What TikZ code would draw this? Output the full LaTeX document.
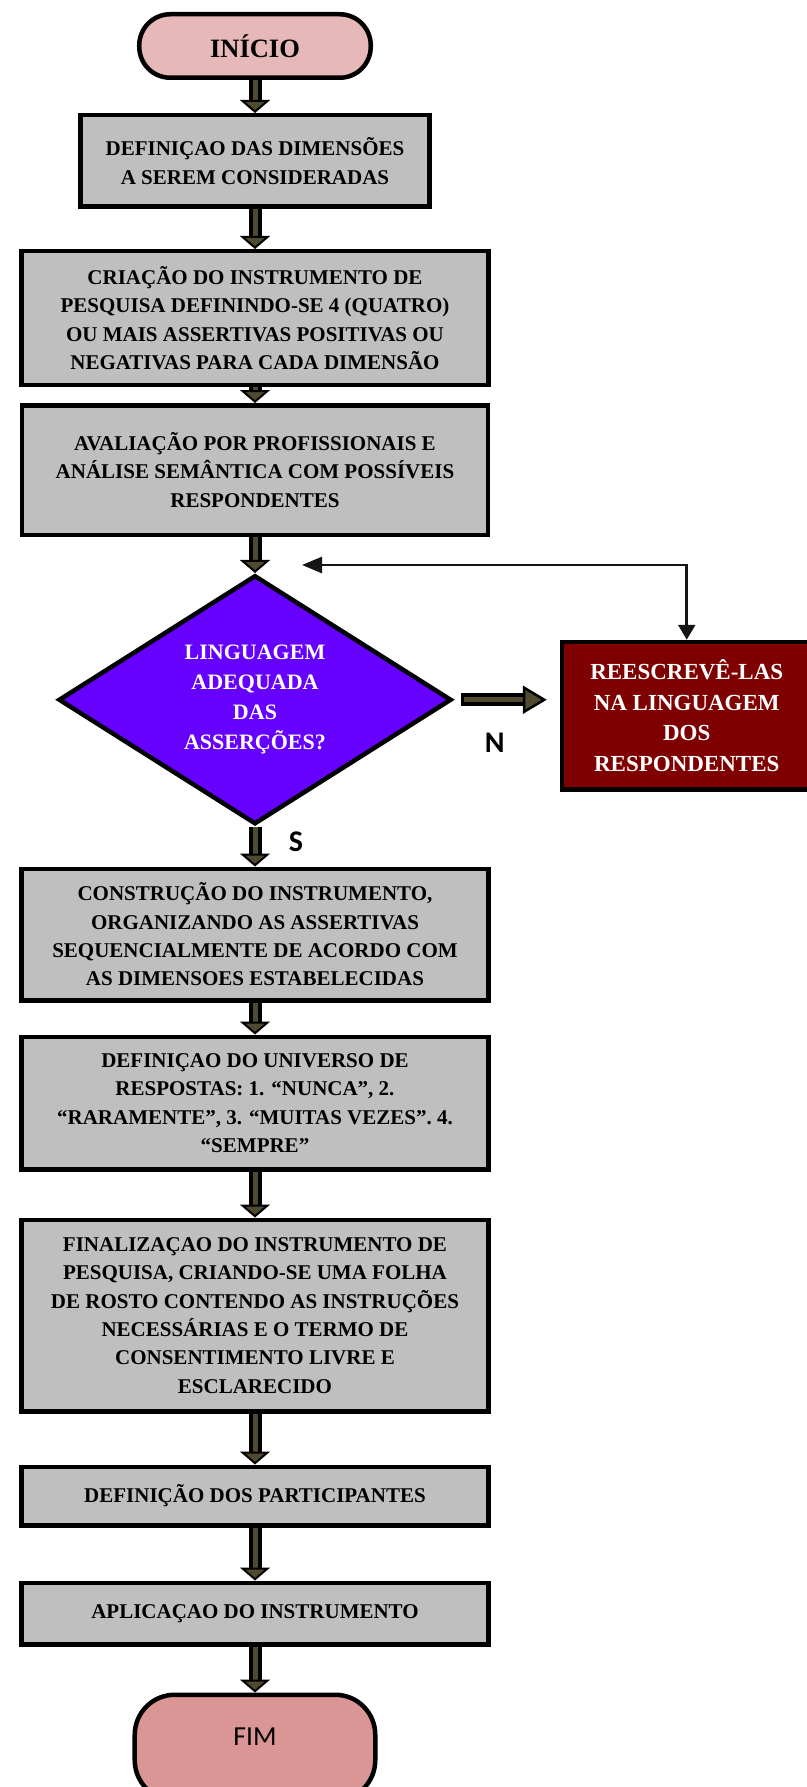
\documentclass[tikz,border=0pt]{standalone}
\usepackage{fontspec}
\setmainfont{Liberation Serif}
\newfontfamily\calibfont{Carlito}
\usetikzlibrary{arrows.meta, shapes.geometric, positioning, calc}

\definecolor{startpink}{HTML}{E6B9B8}
\definecolor{endpink}{HTML}{D99694}
\definecolor{boxgray}{HTML}{BFBFBF}
\definecolor{askviolet}{HTML}{6600FF}
\definecolor{redbox}{HTML}{7F0000}
\definecolor{arrowolive}{HTML}{4F4A30}
\definecolor{linkblack}{HTML}{151515}

\begin{document}
\begin{tikzpicture}[
  node distance=40pt,
  terminal/.style={rectangle, rounded corners=31pt, draw=black, line width=4.5pt,
                   fill=startpink, minimum width=231.5pt, minimum height=63.5pt,
                   font=\bfseries\fontsize{26.5}{30}\selectfont},
  stepbox/.style={rectangle, draw=black, line width=4.5pt, fill=boxgray,
                  minimum width=467pt, align=center, inner sep=4pt,
                  font=\bfseries\fontsize{21}{28.3}\selectfont},
  askbox/.style={diamond, aspect=1.57, draw=black, line width=4.5pt, fill=askviolet,
                 minimum width=393pt, minimum height=249pt, inner sep=0pt,
                 align=center, text=white, font=\bfseries\fontsize{22}{30}\selectfont},
  redobox/.style={rectangle, draw=black, line width=4.5pt, fill=redbox,
                  minimum width=249.5pt, minimum height=147.5pt, align=center,
                  text=white, font=\bfseries\fontsize{23}{30.5}\selectfont},
  yesno/.style={font=\calibfont\bfseries\fontsize{30}{32}\selectfont},
  flowarrow/.style={draw=arrowolive, line width=5pt,
    -{Triangle[length=13pt, width=30pt, line width=2pt, color=black, fill=arrowolive]},
    preaction={draw=black, line width=13pt, -, shorten >=12pt}},
  sidearrow/.style={draw=arrowolive, line width=5pt, shorten <=10pt, shorten >=13pt,
    -{Triangle[length=24pt, width=28pt, line width=2.5pt, color=black, fill=arrowolive]},
    preaction={draw=black, line width=13pt, -, shorten <=7pt, shorten >=35pt}},
  backarrow/.style={draw=linkblack, line width=2.7pt,
    {Triangle[length=20pt, width=16pt]}-{Triangle[length=15pt, width=17pt]}},
]
\useasboundingbox (-255pt,46pt) rectangle (551pt,-1741pt);

\node[terminal] (start) {INÍCIO};
\node[stepbox, minimum width=348.5pt, minimum height=91.5pt, below=33pt of start] (dims)
  {DEFINIÇAO DAS DIMENSÕES\\A SEREM CONSIDERADAS};
\node[stepbox, minimum height=133.5pt, below=40pt of dims] (create)
  {CRIAÇÃO DO INSTRUMENTO DE\\PESQUISA DEFININDO-SE 4 (QUATRO)\\OU MAIS ASSERTIVAS POSITIVAS OU\\NEGATIVAS PARA CADA DIMENSÃO};
\node[stepbox, minimum width=465.5pt, minimum height=129.5pt, below=16pt of create] (review)
  {AVALIAÇÃO POR PROFISSIONAIS E\\ANÁLISE SEMÂNTICA COM POSSÍVEIS\\RESPONDENTES};
\node[askbox, below=36pt of review] (check)
  {LINGUAGEM\\ADEQUADA\\DAS\\ASSERÇÕES?};
\node[redobox, right=106pt of check, yshift=-16pt] (rewrite)
  {REESCREVÊ-LAS\\NA LINGUAGEM\\DOS\\RESPONDENTES};
\node[stepbox, minimum height=131.5pt, below=40pt of check] (build)
  {CONSTRUÇÃO DO INSTRUMENTO,\\ORGANIZANDO AS ASSERTIVAS\\SEQUENCIALMENTE DE ACORDO COM\\AS DIMENSOES ESTABELECIDAS};
\node[stepbox, minimum height=132.5pt, below=32pt of build] (answers)
  {DEFINIÇAO DO UNIVERSO DE\\RESPOSTAS: 1. “NUNCA”, 2.\\“RARAMENTE”, 3. “MUITAS VEZES”. 4.\\“SEMPRE”};
\node[stepbox, minimum height=191.5pt, below=46pt of answers] (finish)
  {FINALIZAÇAO DO INSTRUMENTO DE\\PESQUISA, CRIANDO-SE UMA FOLHA\\DE ROSTO CONTENDO AS INSTRUÇÕES\\NECESSÁRIAS E O TERMO DE\\CONSENTIMENTO LIVRE E\\ESCLARECIDO};
\node[stepbox, minimum height=58.5pt, below=51pt of finish] (people)
  {DEFINIÇÃO DOS PARTICIPANTES};
\node[stepbox, minimum height=61.5pt, below=53pt of people] (apply)
  {APLICAÇAO DO INSTRUMENTO};
\node[terminal, fill=endpink, rounded corners=40pt, minimum width=240.5pt,
      minimum height=105.5pt, text height=18pt, text depth=22pt,
      font=\calibfont\fontsize{27.5}{30}\selectfont, below=46pt of apply] (end) {FIM};

\node[yesno] (nmark) at ($(check.east)+(41pt,-43pt)$) {N};
\node[yesno] (smark) at ($(check.south)+(41pt,-15pt)$) {S};
\coordinate (back) at ($(check.north)+(47pt,8pt)$);

\draw[flowarrow] (start)   -- (dims);
\draw[flowarrow] (dims)    -- (create);
\draw[flowarrow] (create)  -- (review);
\draw[flowarrow] (review)  -- (check);
\draw[flowarrow] (check)   -- (build);
\draw[flowarrow] (build)   -- (answers);
\draw[flowarrow] (answers) -- (finish);
\draw[flowarrow] (finish)  -- (people);
\draw[flowarrow] (people)  -- (apply);
\draw[flowarrow] (apply)   -- (end);
\draw[sidearrow] (check) -- (check -| rewrite.west);
\draw[backarrow] (back) -| (rewrite.north);
\end{tikzpicture}
\end{document}
